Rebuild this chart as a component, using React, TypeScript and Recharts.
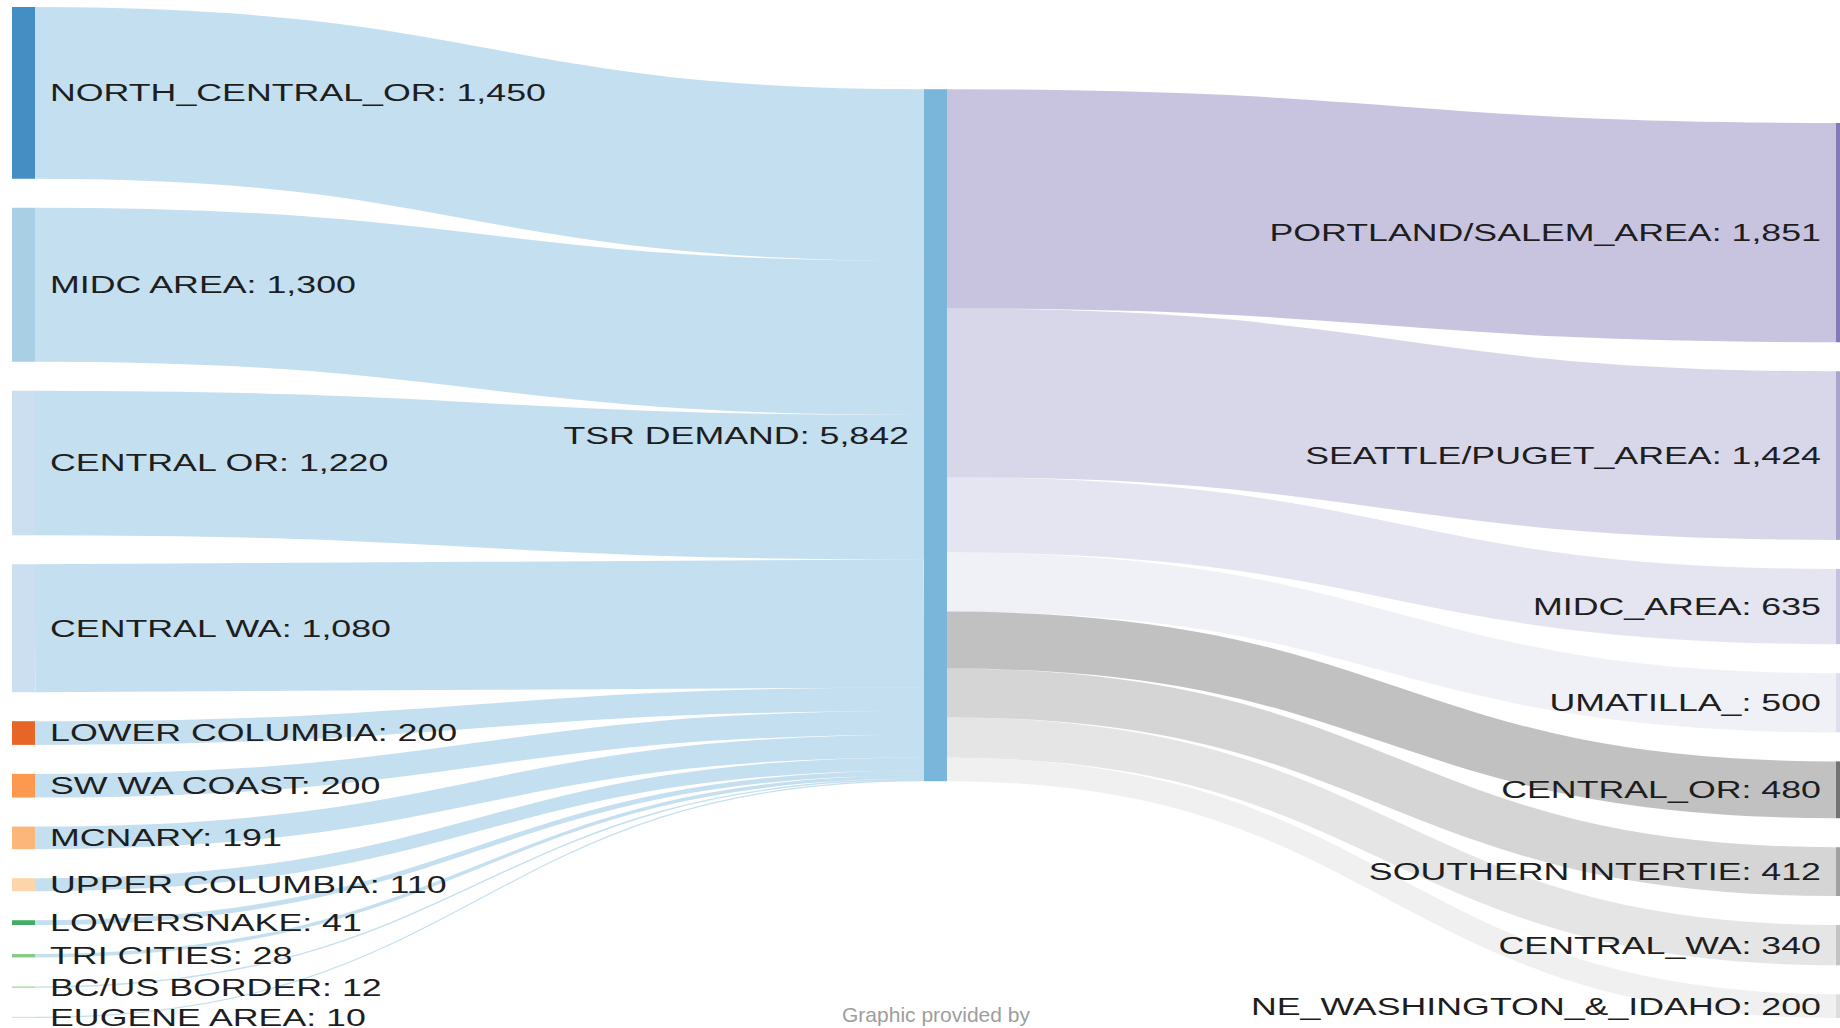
import { Sankey } from "recharts";

const sourceNames = [
  "NORTH_CENTRAL_OR",
  "MIDC AREA",
  "CENTRAL OR",
  "CENTRAL WA",
  "LOWER COLUMBIA",
  "SW WA COAST",
  "MCNARY",
  "UPPER COLUMBIA",
  "LOWERSNAKE",
  "TRI CITIES",
  "BC/US BORDER",
  "EUGENE AREA",
];
const sourceValues = [1450, 1300, 1220, 1080, 200, 200, 191, 110, 41, 28, 12, 10];
const sourceColors = [
  "#3182bd", "#9ecae1", "#c6dbef", "#c6dbef", "#e6550d", "#fd8d3c",
  "#fdae6b", "#fdd0a2", "#31a354", "#74c476", "#a1d99b", "#c7e9c0",
];

const hubName = "TSR DEMAND";
const hubColor = "#6baed6";

const targetNames = [
  "PORTLAND/SALEM_AREA",
  "SEATTLE/PUGET_AREA",
  "MIDC_AREA",
  "UMATILLA_",
  "CENTRAL_OR",
  "SOUTHERN INTERTIE",
  "CENTRAL_WA",
  "NE_WASHINGTON_&_IDAHO",
];
const targetValues = [1851, 1424, 635, 500, 480, 412, 340, 200];
const targetColors = [
  "#756bb1", "#9e9ac8", "#bcbddc", "#dadaeb", "#636363", "#969696", "#bdbdbd", "#d9d9d9",
];

const hubIndex = sourceNames.length;
const nodes = [...sourceNames, hubName, ...targetNames].map((name) => ({ name }));
const links = [
  ...sourceValues.map((value, i) => ({ source: i, target: hubIndex, value })),
  ...targetValues.map((value, i) => ({ source: hubIndex, target: hubIndex + 1 + i, value })),
];

const colorOf: Record<string, string> = {};
sourceNames.forEach((n, i) => (colorOf[n] = sourceColors[i]));
colorOf[hubName] = hubColor;
targetNames.forEach((n, i) => (colorOf[n] = targetColors[i]));

const FONT = "'Liberation Sans', Arial, sans-serif";
const STRETCH = 1.49;

function SankeyNode(props: any) {
  const { x, y, width, height, payload } = props;
  const name = payload.name;
  const label = `${name}: ${payload.value.toLocaleString("en-US")}`;
  const isSource = payload.depth === 0;
  const tx = isSource ? x + width + 15 : x - 15;
  const ty = y + height / 2;
  return (
    <g>
      <rect x={x} y={y} width={width} height={height} fill={colorOf[name]} fillOpacity={0.9} />
      <text
        transform={`translate(${tx},${ty}) scale(${STRETCH},1)`}
        textAnchor={isSource ? "start" : "end"}
        dy="0.35em"
        fontSize={24}
        fontFamily={FONT}
        fill="#1e1e1e"
      >
        {label}
      </text>
    </g>
  );
}

function SankeyLink(props: any) {
  const { sourceX, targetX, sourceY, targetY, sourceControlX, targetControlX, linkWidth, payload } = props;
  const color = colorOf[payload.target.name];
  return (
    <path
      d={`M${sourceX},${sourceY} C${sourceControlX},${sourceY} ${targetControlX},${targetY} ${targetX},${targetY}`}
      fill="none"
      stroke={color}
      strokeOpacity={0.4}
      strokeWidth={linkWidth}
    />
  );
}

export default function App() {
  return (
    <div
      style={{
        position: "absolute",
        left: 0,
        top: 0,
        width: 1840,
        height: 1028,
        overflow: "hidden",
        background: "#fff",
      }}
    >
      <Sankey
        width={1859}
        height={1028}
        data={{ nodes, links }}
        nodeWidth={23}
        nodePadding={29}
        sort={false}
        margin={{ top: 7, left: 12, right: 0, bottom: 10 }}
        node={<SankeyNode />}
        link={<SankeyLink />}
      />
      <div
        style={{
          position: "absolute",
          left: 0,
          top: 1004,
          width: 1872,
          textAlign: "center",
          fontFamily: FONT,
          fontSize: 21,
          lineHeight: "21px",
          color: "#9e9e9e",
        }}
      >
        Graphic provided by
      </div>
    </div>
  );
}
